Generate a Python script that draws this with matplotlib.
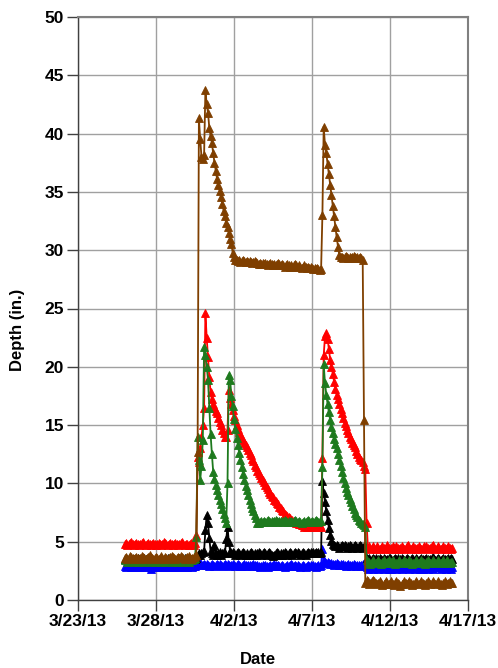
import matplotlib
matplotlib.use('Agg')
import matplotlib.pyplot as plt
import numpy as np
import pandas as pd

plt.rcParams['font.family'] = ['Liberation Sans', 'DejaVu Sans']
plt.rcParams['font.weight'] = 'bold'

# logger readings every 2 hours, 3/26/13 00:00 through 4/16/13 00:00
times = pd.date_range('2013-03-26 00:00', periods=253, freq='2h')

brown = [
    3.6, 3.7, 3.5, 3.6, 3.8, 3.7, 3.6, 3.5, 3.6, 3.7, 3.6, 3.5,
    3.6, 3.8, 3.7, 3.6, 3.5, 3.6, 3.7, 3.9, 3.7, 3.6, 3.5, 3.6,
    3.7, 3.6, 3.5, 3.6, 3.8, 3.6, 3.5, 3.7, 3.6, 3.5, 3.6, 3.7,
    3.8, 3.7, 3.6, 3.5, 3.6, 3.7, 3.6, 3.8, 3.7, 3.6, 3.5, 3.6,
    3.7, 3.8, 3.6, 3.5, 3.6, 3.7, 3.8, 3.9, 12.7, 41.3, 39.5, 38.0,
    37.8, 38.2, 43.7, 42.5, 41.8, 40.5, 39.8, 39.2, 38.3, 37.5, 36.8, 36.1,
    35.6, 35.1, 34.6, 34.0, 33.4, 32.9, 32.3, 32.0, 31.5, 31.0, 30.5, 29.8,
    29.4, 29.2, 29.2, 29.1, 29.2, 29.0, 29.1, 29.2, 29.1, 29.0, 29.1, 29.0,
    29.1, 29.0, 28.9, 29.0, 29.1, 29.0, 28.9, 28.8, 28.9, 28.8, 28.9, 28.8,
    28.9, 28.8, 28.7, 28.8, 28.9, 28.8, 28.7, 28.8, 28.7, 28.8, 28.9, 28.8,
    28.7, 28.8, 28.7, 28.6, 28.7, 28.8, 28.7, 28.6, 28.7, 28.6, 28.7, 28.8,
    28.7, 28.6, 28.7, 28.6, 28.5, 28.6, 28.7, 28.6, 28.5, 28.6, 28.5, 28.6,
    28.5, 28.4, 28.5, 28.4, 28.5, 28.4, 28.3, 28.4, 33.0, 40.6, 39.0, 38.3,
    37.4, 36.5, 35.6, 34.7, 33.8, 32.9, 32.0, 31.1, 30.3, 29.6, 29.4, 29.4,
    29.3, 29.4, 29.5, 29.4, 29.3, 29.4, 29.3, 29.4, 29.5, 29.4, 29.3, 29.4,
    29.3, 29.4, 29.3, 29.2, 15.4, 1.5, 1.7, 1.6, 1.4, 1.5, 1.6, 1.7,
    1.6, 1.5, 1.4, 1.5, 1.6, 1.5, 1.3, 1.4, 1.5, 1.6, 1.5, 1.4,
    1.5, 1.6, 1.4, 1.3, 1.5, 1.6, 1.5, 1.4, 1.2, 1.4, 1.5, 1.6,
    1.5, 1.4, 1.5, 1.6, 1.5, 1.3, 1.4, 1.5, 1.6, 1.5, 1.4, 1.5,
    1.6, 1.5, 1.4, 1.3, 1.5, 1.6, 1.5, 1.4, 1.5, 1.6, 1.5, 1.4,
    1.5, 1.6, 1.5, 1.4, 1.3, 1.5, 1.6, 1.5, 1.4, 1.5, 1.6, 1.5,
    1.5]

red = [
    4.8, 4.9, 4.7, 4.8, 4.9, 5.0, 4.8, 4.7, 4.8, 4.9, 4.8, 4.7,
    4.8, 4.9, 5.0, 4.8, 4.7, 4.8, 4.9, 4.8, 4.7, 4.8, 4.9, 4.8,
    4.7, 4.8, 4.9, 4.8, 4.7, 4.8, 5.0, 4.9, 4.8, 4.7, 4.8, 4.9,
    4.8, 4.7, 4.8, 4.9, 4.8, 4.7, 4.8, 4.9, 5.0, 4.8, 4.7, 4.8,
    4.8, 4.7, 4.8, 4.9, 4.8, 4.7, 4.9, 5.6, 12.3, 11.8, 13.0, 14.0,
    15.0, 16.5, 24.6, 22.5, 20.8, 19.1, 17.8, 17.2, 16.8, 16.5, 16.2, 16.0,
    15.6, 15.3, 15.0, 14.6, 14.3, 14.0, 14.0, 14.6, 18.0, 17.3, 16.8, 16.3,
    15.8, 15.4, 15.0, 14.7, 14.4, 14.1, 13.9, 13.7, 13.5, 13.3, 13.1, 12.9,
    12.6, 12.4, 12.1, 11.9, 11.6, 11.4, 11.1, 10.9, 10.7, 10.5, 10.3, 10.1,
    9.9, 9.7, 9.5, 9.3, 9.1, 8.9, 8.8, 8.6, 8.5, 8.3, 8.2, 8.0,
    7.9, 7.7, 7.6, 7.4, 7.3, 7.2, 7.1, 7.0, 6.9, 6.9, 6.8, 6.7,
    6.6, 6.6, 6.5, 6.5, 6.4, 6.4, 6.3, 6.4, 6.3, 6.4, 6.3, 6.4,
    6.3, 6.4, 6.3, 6.3, 6.4, 6.3, 6.4, 6.3, 12.2, 21.0, 22.6, 22.9,
    22.4, 21.5, 20.6, 20.0, 19.4, 18.7, 18.1, 17.6, 17.2, 16.8, 16.4, 16.0,
    15.6, 15.2, 14.9, 14.6, 14.3, 14.0, 13.8, 13.5, 13.3, 13.1, 12.8, 12.5,
    12.3, 12.1, 12.0, 11.8, 11.5, 11.2, 6.6, 4.5, 4.6, 4.4, 4.5, 4.6,
    4.5, 4.4, 4.6, 4.5, 4.4, 4.5, 4.6, 4.5, 4.4, 4.5, 4.7, 4.5,
    4.4, 4.5, 4.6, 4.5, 4.4, 4.6, 4.5, 4.4, 4.5, 4.6, 4.5, 4.4,
    4.5, 4.6, 4.7, 4.5, 4.4, 4.5, 4.6, 4.5, 4.4, 4.5, 4.6, 4.5,
    4.4, 4.5, 4.6, 4.5, 4.6, 4.5, 4.4, 4.5, 4.6, 4.7, 4.5, 4.4,
    4.5, 4.6, 4.5, 4.4, 4.5, 4.6, 4.5, 4.4, 4.5, 4.6, 4.5, 4.4,
    4.5]

green = [
    3.4, 3.5, 3.3, 3.4, 3.5, 3.4, 3.3, 3.4, 3.5, 3.4, 3.3, 3.4,
    3.5, 3.4, 3.3, 3.4, 3.5, 3.4, 3.4, 3.3, 3.4, 3.5, 3.4, 3.3,
    3.4, 3.5, 3.4, 3.3, 3.4, 3.5, 3.4, 3.3, 3.4, 3.4, 3.5, 3.4,
    3.3, 3.4, 3.5, 3.4, 3.3, 3.4, 3.5, 3.4, 3.3, 3.4, 3.5, 3.4,
    3.4, 3.3, 3.4, 3.5, 3.4, 3.5, 3.6, 5.4, 14.0, 12.0, 10.3, 11.5,
    13.7, 21.7, 21.0, 20.0, 18.9, 16.5, 14.2, 12.5, 11.0, 10.4, 9.9, 9.4,
    9.0, 8.6, 8.2, 7.8, 7.4, 7.0, 6.6, 10.0, 19.3, 18.9, 17.5, 16.6,
    15.5, 14.7, 13.9, 13.3, 12.6, 12.0, 11.4, 10.8, 10.3, 9.8, 9.4, 9.0,
    8.6, 8.2, 7.9, 7.6, 7.3, 7.0, 6.6, 6.6, 6.7, 6.8, 6.7, 6.8,
    6.7, 6.8, 6.9, 6.8, 6.7, 6.8, 6.7, 6.8, 6.9, 6.8, 6.7, 6.8,
    6.8, 6.7, 6.8, 6.9, 6.8, 6.7, 6.8, 6.7, 6.8, 6.7, 6.8, 6.9,
    6.8, 6.7, 6.8, 6.7, 6.6, 6.7, 6.8, 6.7, 6.8, 6.9, 6.8, 6.7,
    6.8, 6.7, 6.8, 6.9, 6.8, 6.7, 6.8, 6.8, 11.4, 20.2, 18.6, 17.6,
    16.8, 16.1, 15.4, 14.8, 14.3, 13.8, 13.4, 13.0, 12.5, 12.0, 11.5, 11.0,
    10.5, 10.0, 9.6, 9.3, 9.0, 8.7, 8.4, 8.1, 7.8, 7.5, 7.3, 7.1,
    6.9, 6.8, 6.6, 6.5, 6.4, 6.3, 3.4, 3.2, 3.3, 3.1, 3.3, 3.4,
    3.3, 3.2, 3.3, 3.4, 3.2, 3.1, 3.3, 3.4, 3.3, 3.2, 3.3, 3.4,
    3.2, 3.3, 3.4, 3.3, 3.1, 3.2, 3.3, 3.4, 3.3, 3.2, 3.3, 3.4,
    3.3, 3.2, 3.3, 3.4, 3.3, 3.1, 3.2, 3.3, 3.4, 3.3, 3.2, 3.3,
    3.4, 3.3, 3.2, 3.1, 3.3, 3.4, 3.3, 3.2, 3.3, 3.4, 3.3, 3.2,
    3.3, 3.4, 3.3, 3.2, 3.3, 3.4, 3.2, 3.3, 3.4, 3.3, 3.2, 3.3,
    3.3]

black = [
    3.5, 3.6, 3.5, 3.4, 3.5, 3.6, 3.5, 3.5, 3.4, 3.5, 3.6, 3.5,
    3.5, 3.4, 3.5, 3.6, 3.5, 3.4, 3.5, 3.6, 3.5, 3.5, 3.4, 3.5,
    3.6, 3.5, 3.4, 3.5, 3.6, 3.5, 3.5, 3.4, 3.5, 3.6, 3.5, 3.4,
    3.5, 3.6, 3.5, 3.4, 3.5, 3.5, 3.6, 3.5, 3.4, 3.5, 3.6, 3.5,
    3.5, 3.6, 3.5, 3.4, 3.5, 3.6, 3.5, 3.6, 3.9, 4.0, 3.9, 4.0,
    4.1, 4.2, 6.0, 7.3, 6.6, 5.3, 4.2, 4.0, 3.9, 4.7, 4.0, 3.9,
    4.0, 4.1, 3.9, 4.0, 4.1, 4.0, 5.2, 6.3, 5.0, 4.2, 4.0, 4.1,
    4.0, 3.9, 4.0, 4.1, 4.0, 3.9, 4.0, 4.1, 4.0, 3.9, 4.0, 3.9,
    4.0, 4.1, 4.0, 3.9, 4.0, 3.9, 4.0, 4.1, 4.0, 3.9, 4.0, 4.1,
    4.0, 3.9, 4.0, 4.1, 4.0, 3.9, 3.8, 3.9, 4.0, 4.1, 4.0, 3.9,
    4.0, 3.9, 4.0, 4.1, 4.0, 3.9, 4.0, 4.1, 4.0, 3.9, 4.0, 4.1,
    4.0, 4.1, 4.0, 3.9, 4.0, 4.1, 4.0, 3.9, 4.0, 4.1, 4.0, 4.1,
    4.0, 4.1, 4.0, 4.1, 4.0, 4.1, 4.0, 4.1, 10.2, 9.2, 8.4, 7.6,
    6.9, 6.2, 5.6, 5.1, 4.8, 4.7, 4.6, 4.7, 4.6, 4.5, 4.6, 4.7,
    4.6, 4.7, 4.6, 4.5, 4.6, 4.7, 4.6, 4.5, 4.6, 4.7, 4.6, 4.5,
    4.6, 4.7, 4.6, 4.5, 4.6, 4.6, 3.6, 3.5, 3.6, 3.4, 3.5, 3.6,
    3.5, 3.6, 3.4, 3.5, 3.6, 3.5, 3.4, 3.6, 3.5, 3.4, 3.5, 3.6,
    3.6, 3.5, 3.4, 3.5, 3.6, 3.5, 3.6, 3.4, 3.5, 3.6, 3.5, 3.4,
    3.5, 3.6, 3.5, 3.4, 3.5, 3.6, 3.5, 3.4, 3.6, 3.5, 3.4, 3.5,
    3.6, 3.5, 3.4, 3.5, 3.6, 3.5, 3.4, 3.5, 3.6, 3.7, 3.5, 3.4,
    3.5, 3.6, 3.5, 3.4, 3.5, 3.6, 3.5, 3.4, 3.5, 3.6, 3.5, 3.6,
    3.5]

blue = [
    2.9, 2.8, 2.9, 3.0, 2.9, 2.8, 2.9, 2.8, 2.9, 3.0, 2.9, 2.8,
    2.9, 2.8, 2.9, 2.8, 2.9, 3.0, 2.9, 2.8, 2.7, 2.8, 2.9, 2.8,
    2.9, 3.0, 2.9, 2.8, 2.9, 2.8, 2.9, 3.0, 2.9, 2.8, 2.9, 2.8,
    2.8, 2.9, 3.0, 2.9, 2.8, 2.9, 2.8, 2.9, 3.0, 2.9, 2.8, 2.9,
    2.8, 2.9, 3.0, 2.9, 2.8, 2.9, 2.9, 3.0, 3.1, 3.3, 3.2, 3.1,
    3.0, 3.1, 3.0, 3.1, 3.0, 2.9, 3.0, 3.1, 3.0, 2.9, 3.0, 3.1,
    3.0, 3.1, 3.0, 2.9, 3.0, 3.1, 3.0, 3.1, 3.0, 2.9, 3.0, 3.1,
    3.0, 2.9, 3.0, 3.1, 3.0, 2.9, 2.9, 3.0, 3.1, 3.0, 2.9, 3.0,
    3.0, 2.9, 3.0, 3.1, 3.0, 2.9, 3.0, 2.9, 2.8, 2.9, 3.0, 2.9,
    3.0, 2.9, 2.8, 2.9, 3.0, 2.9, 3.0, 3.1, 3.0, 2.9, 3.0, 2.9,
    2.9, 3.0, 2.9, 2.8, 2.9, 3.0, 2.9, 3.0, 3.1, 3.0, 2.9, 3.0,
    2.9, 3.0, 2.9, 2.8, 2.9, 3.0, 2.9, 2.8, 2.9, 3.0, 2.9, 3.0,
    2.9, 3.0, 2.9, 2.8, 2.9, 3.0, 2.9, 3.0, 4.4, 3.4, 3.3, 3.2,
    3.3, 3.2, 3.1, 3.2, 3.1, 3.0, 3.1, 3.2, 3.1, 3.0, 3.1, 3.0,
    3.1, 3.0, 2.9, 3.0, 3.1, 3.0, 2.9, 3.0, 3.1, 3.0, 2.9, 3.0,
    3.0, 2.9, 3.0, 3.1, 3.0, 2.9, 2.8, 2.7, 2.8, 2.9, 2.8, 2.7,
    2.8, 2.9, 2.8, 2.7, 2.8, 2.9, 2.8, 2.7, 2.8, 2.9, 2.8, 2.7,
    2.8, 2.7, 2.8, 2.9, 2.8, 2.7, 2.8, 2.9, 2.8, 2.7, 2.8, 2.9,
    2.8, 2.9, 2.8, 2.7, 2.8, 2.9, 2.8, 2.7, 2.8, 2.9, 2.8, 2.7,
    2.8, 2.7, 2.8, 2.9, 2.8, 2.7, 2.8, 2.9, 2.8, 2.7, 2.8, 2.9,
    2.8, 2.9, 2.8, 2.7, 2.8, 2.9, 2.8, 2.7, 2.8, 2.9, 2.8, 2.7,
    2.8]

tick_dates = pd.date_range('2013-03-23', '2013-04-17', freq='5D')
tick_labels = [f"{d.month}/{d.day}/{d:%y}" for d in tick_dates]

series = [
    (blue, '#0000FF'),
    (black, '#000000'),
    (red, '#FF0000'),
    (green, '#1E7A1E'),
    (brown, '#7F3F00'),
]

fig = plt.figure(figsize=(4.98, 6.68), dpi=100)
ax = fig.add_axes([78 / 498, 68 / 668, 390 / 498, 583 / 668])

for vals, col in series:
    n = min(len(times), len(vals))
    ax.plot(times[:n], vals[:n], color=col, linewidth=1.3, marker='^',
            markersize=5.5, markeredgewidth=0.6, markeredgecolor=col)

ax.set_xlim(tick_dates[0], tick_dates[-1])
ax.set_ylim(0, 50)
ax.set_xticks(tick_dates)
ax.set_xticklabels(tick_labels)
ax.set_yticks(np.arange(0, 51, 5))

ax.grid(True, color='#A0A0A0', linewidth=1)
ax.set_axisbelow(True)
for side in ['top', 'right']:
    ax.spines[side].set_color('#808080')
    ax.spines[side].set_linewidth(1.5)
for side in ['left', 'bottom']:
    ax.spines[side].set_color('#404040')
    ax.spines[side].set_linewidth(1)
ax.tick_params(direction='out', length=8, width=1, color='#404040',
               labelsize=12.5, pad=2)
for lab in ax.get_xticklabels() + ax.get_yticklabels():
    lab.set_fontweight('bold')

fig.text(258 / 498, 1 - 660 / 668, 'Date', ha='center', va='center',
         fontsize=12, fontweight='bold')
fig.text(18 / 498, 1 - 330 / 668, 'Depth (in.)', ha='center', va='center',
         rotation=90, fontsize=12, fontweight='bold')

plt.savefig('out.png', dpi=100)
